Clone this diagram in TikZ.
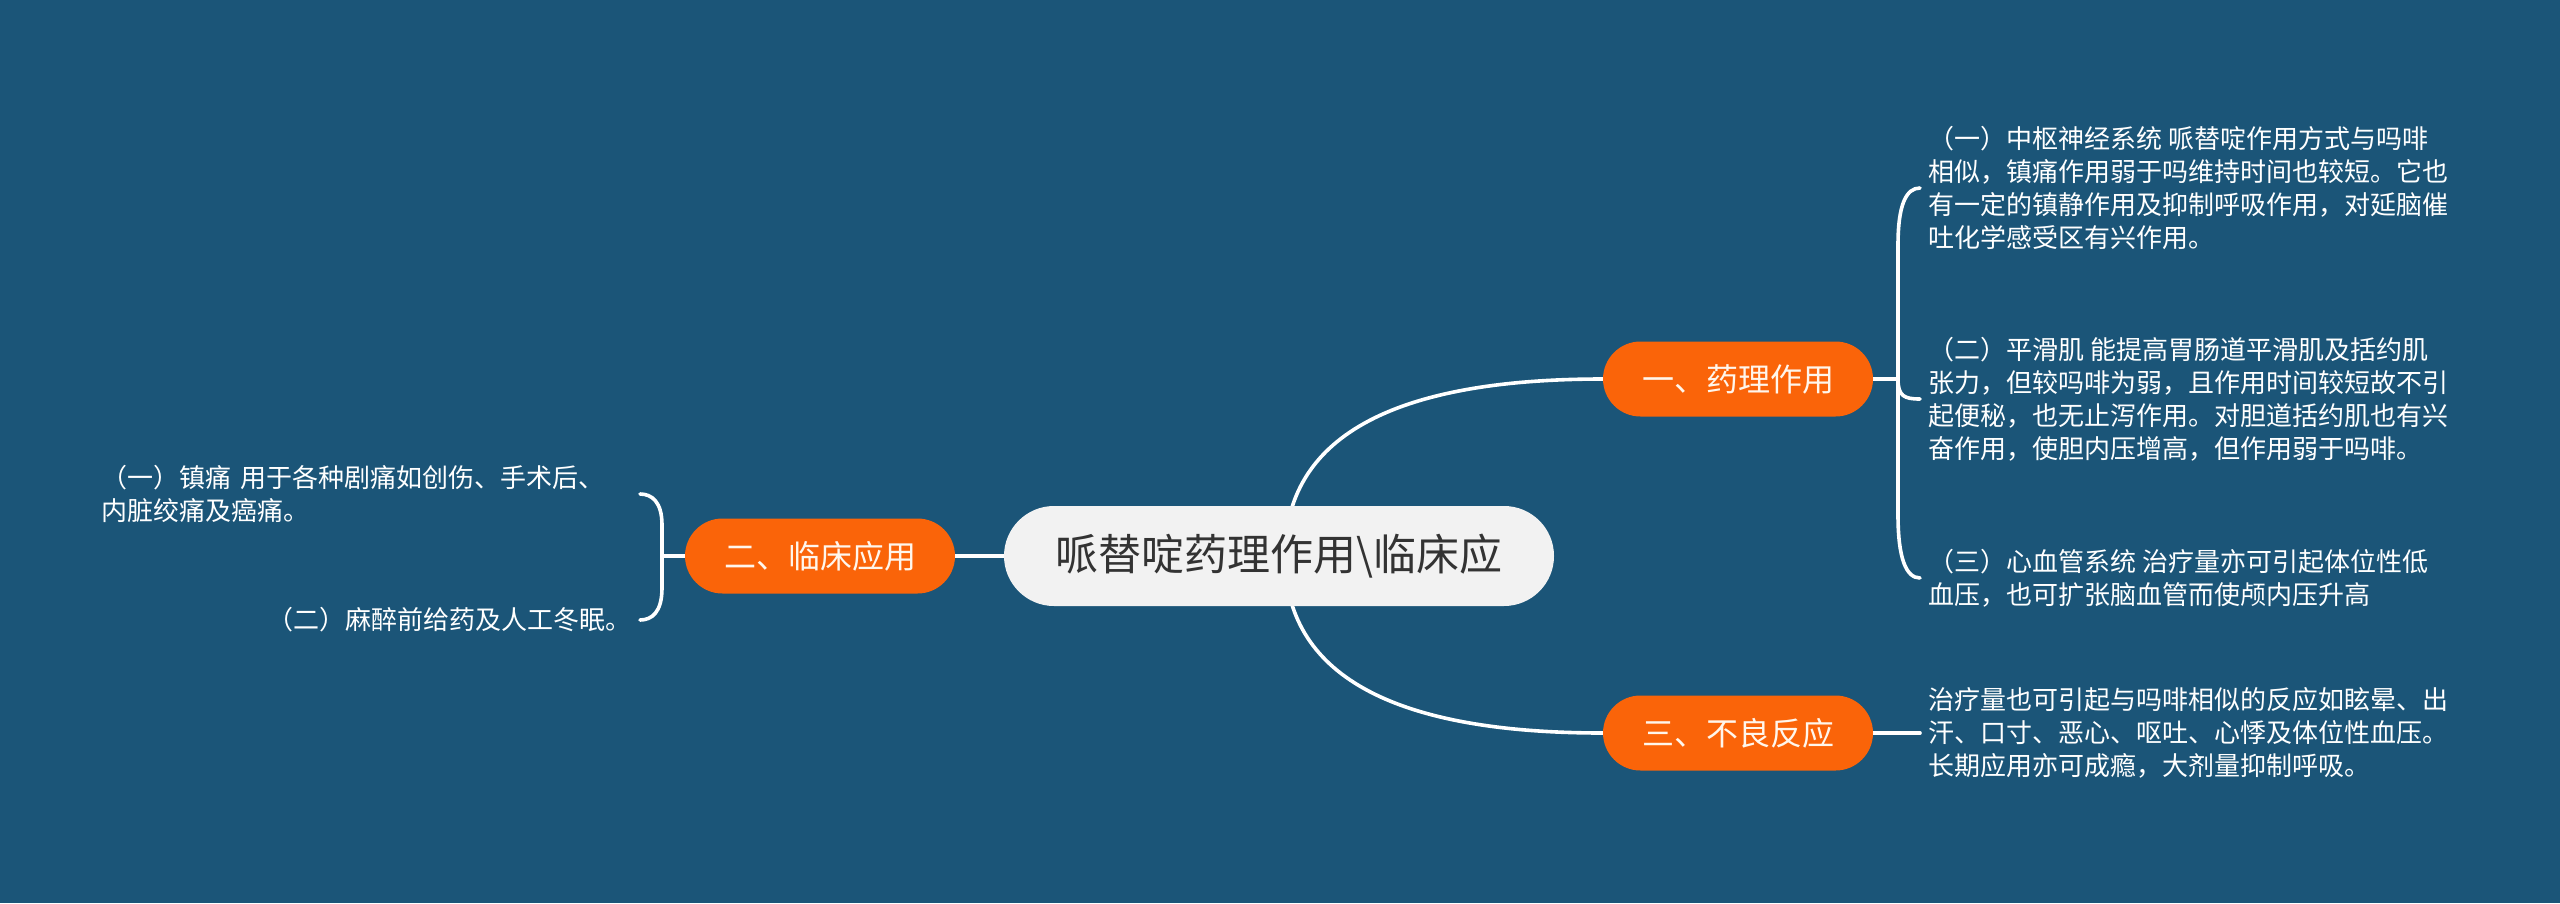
\documentclass[tikz,border=0pt]{standalone}
\usepackage{fontspec}
\newfontfamily\cjk{Noto Sans CJK SC}
\usetikzlibrary{calc}
\pgfdeclarelayer{bglayer}
\pgfdeclarelayer{edgelayer}
\pgfsetlayers{bglayer,edgelayer,main}
\definecolor{bgblue}{HTML}{1B5578}
\definecolor{orangefill}{HTML}{FA6409}
\definecolor{rootfill}{HTML}{F2F2F2}
\definecolor{roottext}{HTML}{333333}
\definecolor{labeltext}{HTML}{FFF6EC}
\tikzset{
  rootnode/.style={rectangle, rounded corners=50pt, minimum width=550pt, minimum height=100pt,
    fill=rootfill, text=roottext, font=\cjk\fontsize{43pt}{50pt}\selectfont, inner sep=0pt},
  topic/.style={rectangle, rounded corners=37.5pt, minimum width=270pt, minimum height=75pt,
    fill=orangefill, text=labeltext, font=\cjk\fontsize{32pt}{38pt}\selectfont, inner sep=0pt},
  leaf/.style={text=white, font=\cjk\fontsize{26pt}{33pt}\selectfont, align=left,
    inner xsep=8pt, inner ysep=2pt},
  link/.style={draw=white, line width=3.6pt, line cap=round},
}
\begin{document}
\begin{tikzpicture}[x=1pt,y=-1pt]
\begin{pgfonlayer}{bglayer}
  \fill[bgblue] (0,0) rectangle (2560,903);
\end{pgfonlayer}
\useasboundingbox (0,0) rectangle (2560,903);

% main nodes
\node[rootnode] (root) at (1279,556) {哌替啶药理作用\textbackslash 临床应};
\node[topic] (a1) at (1738,379) {一、药理作用};
\node[topic] (a3) at (1738,733) {三、不良反应};
\node[topic] (b) at (820,556) {二、临床应用};

% right leaves
\node[leaf, anchor=west] (c1) at (1920,188) {（一）中枢神经系统 哌替啶作用方式与吗啡\\相似，镇痛作用弱于吗维持时间也较短。它也\\有一定的镇静作用及抑制呼吸作用，对延脑催\\吐化学感受区有兴作用。};
\node[leaf, anchor=west] (c2) at (1920,399) {（二）平滑肌 能提高胃肠道平滑肌及括约肌\\张力，但较吗啡为弱，且作用时间较短故不引\\起便秘，也无止泻作用。对胆道括约肌也有兴\\奋作用，使胆内压增高，但作用弱于吗啡。};
\node[leaf, anchor=west] (c3) at (1920,578) {（三）心血管系统 治疗量亦可引起体位性低\\血压，也可扩张脑血管而使颅内压升高};
\node[leaf, anchor=west] (c4) at (1920,733) {治疗量也可引起与吗啡相似的反应如眩晕、出\\汗、口寸、恶心、呕吐、心悸及体位性血压。\\长期应用亦可成瘾，大剂量抑制呼吸。};

% left leaves
\node[leaf, anchor=east, text width=530pt] (d1) at (640,494) {（一）镇痛 用于各种剧痛如创伤、手术后、\\内脏绞痛及癌痛。};
\node[leaf, anchor=east] (d2) at (640,620) {（二）麻醉前给药及人工冬眠。};

\coordinate (j1) at (1898,379);
\coordinate (j2) at (662,556);

\begin{pgfonlayer}{edgelayer}
  % root to topics
  \draw[link] ($(root.center)+(6,0)$) .. controls +(0,-118) and +(-212,0) .. (a1.west);
  \draw[link] ($(root.center)+(6,0)$) .. controls +(0,118) and +(-212,0) .. (a3.west);
  \draw[link] (root.west) -- (b.east);
  % right bracket
  \draw[link] (a1.east) -- (j1);
  \draw[link] (j1) -- (1898,245) .. controls (1898,205) and (1906,188) .. (c1.west);
  \draw[link] (j1) .. controls (1898,396) and (1904,399) .. (c2.west);
  \draw[link] (j1) -- (1898,515) .. controls (1898,558) and (1906,578) .. (c3.west);
  \draw[link] (a3.east) -- (c4.west);
  % left bracket
  \draw[link] (b.west) -- (j2);
  \draw[link] (j2) -- (662,525) .. controls (662,502) and (652,494) .. (d1.east);
  \draw[link] (j2) -- (662,588) .. controls (662,612) and (652,620) .. (d2.east);
\end{pgfonlayer}
\end{tikzpicture}
\end{document}
